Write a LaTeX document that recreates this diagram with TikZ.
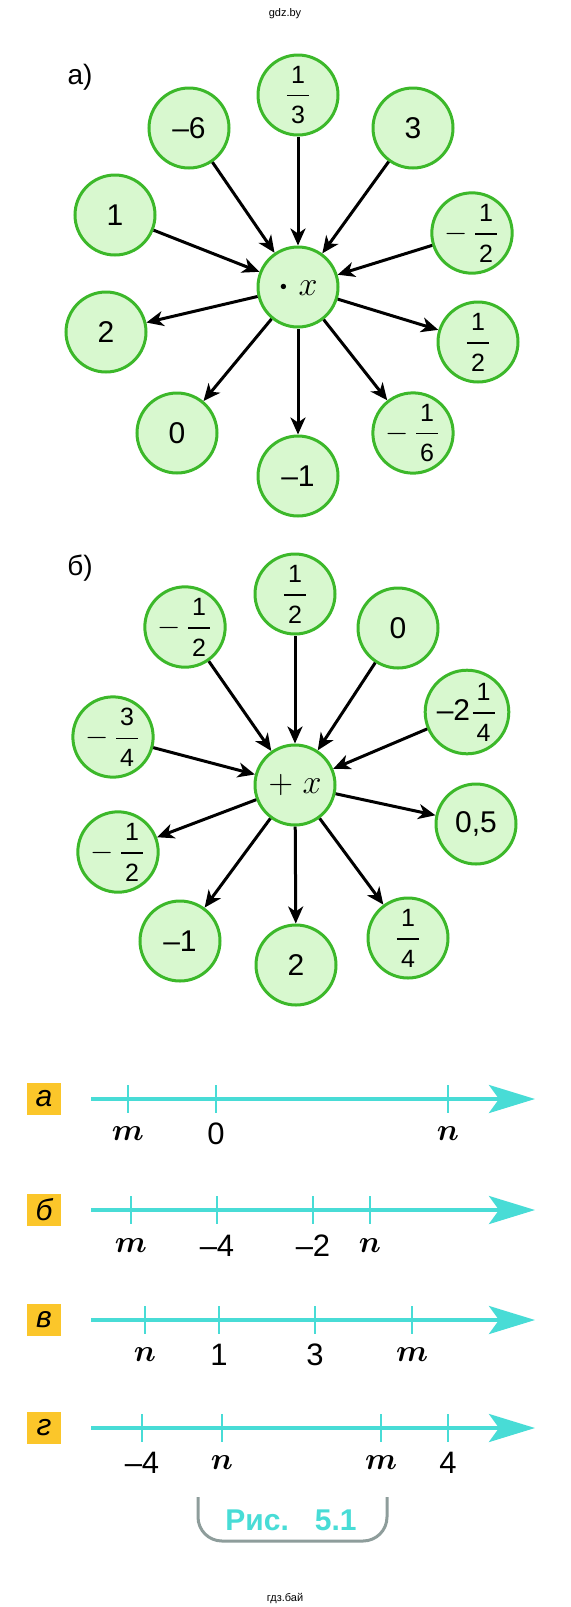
\RequirePackage{fix-cm}
\documentclass[tikz,border=0pt]{standalone}
\usepackage{amsmath}
\usepackage{fontspec}
\setmainfont{Liberation Sans}
\usepackage{tikz}
\usetikzlibrary{arrows.meta}

\definecolor{ringgreen}{HTML}{3CB82A}
\definecolor{fillgreen}{HTML}{D8F8CF}
\definecolor{axiscyan}{HTML}{48DCD6}
\definecolor{tagyellow}{HTML}{FBC62A}
\definecolor{tabgray}{HTML}{8E9D9B}

% fraction with sans digits
\newcommand{\fr}[2]{\ensuremath{\dfrac{\text{\fontsize{12.5}{13}\selectfont\,#1\,}}{\text{\fontsize{12.5}{13}\selectfont\,#2\,}}}}
\newcommand{\mfr}[2]{\ensuremath{-\mkern3mu\fr{#1}{#2}}}

\begin{document}
\begin{tikzpicture}[x=0.5pt,y=-0.5pt,
  num/.style={circle,draw=ringgreen,fill=fillgreen,line width=1.5pt,
    minimum size=40pt,inner sep=0pt,font=\fontsize{15}{17}\selectfont},
  op/.style={num,font=\fontsize{17}{19}\selectfont},
  pil/.style={-{Stealth[length=8.5pt,width=7.5pt,inset=2.5pt]},line width=1.5pt},
  axis/.style={axiscyan,line width=2pt,-{Stealth[length=23pt,width=14pt,inset=5pt]}},
  tickmark/.style={axiscyan,line width=1pt},
  tag/.style={fill=tagyellow,minimum width=17pt,minimum height=16pt,inner sep=0pt,
    font=\fontsize{15}{16}\selectfont\itshape},
  lab/.style={font=\fontsize{15.5}{18}\selectfont\boldmath},
  part/.style={font=\fontsize{14}{16}\selectfont}]
\useasboundingbox (0,0) rectangle (571,1607);

\node[font=\fontsize{5.5}{6}\selectfont] (src) at (285,14) {gdz.by};

% a) multiplication
\node[part] (pa) at (80,77) {а)};
\node[op] (mul) at (298,287) {$\boldsymbol{\cdot}\;x$};
\node[num] (a1) at (298,95) {\fr{1}{3}};
\node[num] (a2) at (413,128) {3};
\node[num] (a3) at (472,233) {\mfr{1}{2}};
\node[num] (a4) at (478,342) {\fr{1}{2}};
\node[num] (a5) at (413,433) {\mfr{1}{6}};
\node[num] (a6) at (298,476) {–1};
\node[num] (a7) at (177,433) {0};
\node[num] (a8) at (106,332) {2};
\node[num] (a9) at (115,215) {1};
\node[num] (a10) at (189,128) {–6};
\foreach \n in {a1,a2,a3,a9,a10}
  \draw[pil] (\n) -- (mul);
\foreach \n in {a4,a5,a6,a7,a8}
  \draw[pil] (mul) -- (\n);

% b) addition
\node[part] (pb) at (80,568) {б)};
\node[op] (add) at (295,785) {$+\;x$};
\node[num] (b1) at (295,594) {\fr{1}{2}};
\node[num] (b2) at (398,628) {0};
\node[num] (b3) at (467,712) {–2\fr{1}{4}};
\node[num] (b4) at (476,824) {0,5};
\node[num] (b5) at (408,938) {\fr{1}{4}};
\node[num] (b6) at (296,965) {2};
\node[num] (b7) at (180,941) {–1};
\node[num] (b8) at (118,852) {\mfr{1}{2}};
\node[num] (b9) at (113,737) {\mfr{3}{4}};
\node[num] (b10) at (185,627) {\mfr{1}{2}};
\foreach \n in {b1,b2,b3,b9,b10}
  \draw[pil] (\n) -- (add);
\foreach \n in {b4,b5,b6,b7,b8}
  \draw[pil] (add) -- (\n);

% number lines
\foreach \nm/\yy/\lt in {la/1099/а,lb/1210/б,lc/1320/в,ld/1428/г} {
  \node[tag] (\nm-tag) at (44,\yy) {\lt};
  \coordinate (\nm-s) at (91,\yy);
  \coordinate (\nm-e) at (535,\yy);
  \draw[axis] (\nm-s) -- (\nm-e);
}
\foreach \xx/\tx [count=\i] in {128/$m$,216/0,448/$n$} {
  \draw[tickmark] (\xx,1085) -- (\xx,1113);
  \node[lab] (la-\i) at (\xx,1134) {\tx};
}
\foreach \xx/\tx [count=\i] in {131/$m$,217/–4,313/–2,370/$n$} {
  \draw[tickmark] (\xx,1196) -- (\xx,1224);
  \node[lab] (lb-\i) at (\xx,1246) {\tx};
}
\foreach \xx/\tx [count=\i] in {145/$n$,219/1,315/3,412/$m$} {
  \draw[tickmark] (\xx,1306) -- (\xx,1334);
  \node[lab] (lc-\i) at (\xx,1355) {\tx};
}
\foreach \xx/\tx [count=\i] in {142/–4,222/$n$,381/$m$,448/4} {
  \draw[tickmark] (\xx,1414) -- (\xx,1442);
  \node[lab] (ld-\i) at (\xx,1463) {\tx};
}

% caption
\draw[tabgray,line width=1.5pt,rounded corners=12pt] (198,1497) -- (198,1541) -- (387,1541) -- (387,1497);
\node[font=\fontsize{15}{17}\selectfont\bfseries,text=axiscyan] (cap) at (291,1520) {Рис.\hspace{13pt}5.1};

\node[font=\fontsize{5.5}{6}\selectfont] (src2) at (285,1598) {гдз.бай};
\end{tikzpicture}
\end{document}
